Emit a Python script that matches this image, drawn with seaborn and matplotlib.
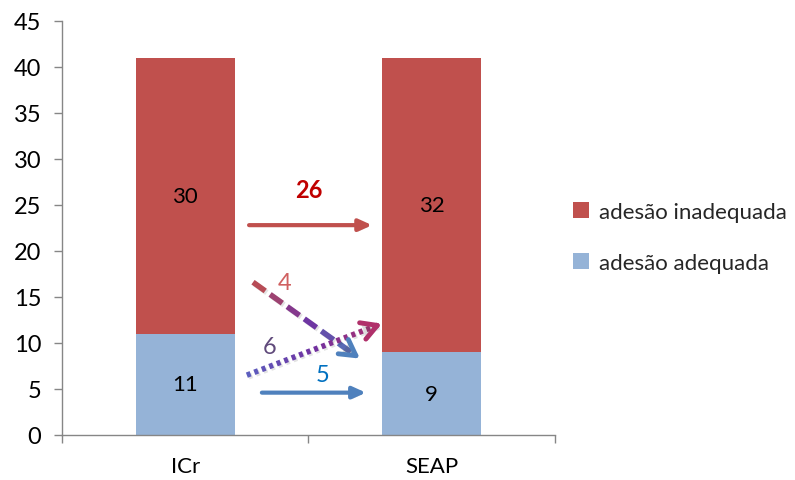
import numpy as np
import pandas as pd
import matplotlib
matplotlib.use("Agg")
import matplotlib.pyplot as plt
import matplotlib.patheffects as pe
from matplotlib.patches import Patch, FancyArrowPatch
from matplotlib.colors import to_rgb
import seaborn as sns

# ---- data ----
groups = ["ICr", "SEAP"]
adequada = [11, 9]
inadequada = [30, 32]
series_labels = ["adesão inadequada", "adesão adequada"]
flow_values = [26, 4, 6, 5]  # inadequada->inadequada, inadequada->adequada, adequada->inadequada, adequada->adequada

RED = "#C0504D"
BLUE = "#95B3D7"

sns.set_theme(style="white")
plt.rcParams["font.family"] = ["Lato", "DejaVu Sans"]

df = pd.DataFrame({"grupo": groups, "adequada": adequada, "inadequada": inadequada})
df["total"] = df["adequada"] + df["inadequada"]

fig = plt.figure(figsize=(7.95, 4.81), dpi=100)
ax = fig.add_axes([0.078, 0.0936, 0.620, 0.861])

sns.barplot(data=df, x="grupo", y="total", color=RED, width=0.4, saturation=1, ax=ax, linewidth=0)
sns.barplot(data=df, x="grupo", y="adequada", color=BLUE, width=0.4, saturation=1, ax=ax, linewidth=0)

# segment labels
for i, (a, b) in enumerate(zip(adequada, inadequada)):
    ax.text(i, a / 2, str(a), ha="center", va="center", fontsize=16, color="black")
    ax.text(i, a + b / 2, str(b), ha="center", va="center", fontsize=16, color="black")

shadow = [pe.SimplePatchShadow(offset=(1.2, -1.2), alpha=0.2), pe.Normal()]
line_shadow = [pe.SimpleLineShadow(offset=(1.2, -1.2), alpha=0.12), pe.Normal()]

def solid_arrow(x0, y0, x1, y1, color):
    arr = FancyArrowPatch((x0, y0), (x1, y1), arrowstyle="-|>,head_length=0.55,head_width=0.25",
                          mutation_scale=14, color=color, lw=3, shrinkA=0, shrinkB=0,
                          path_effects=shadow, zorder=5)
    ax.add_patch(arr)

def gradient_arrow(x0, y0, x1, y1, colors, on, off, lw, capstyle):
    # broken line drawn piece by piece so every dash takes its own colour
    p0 = np.array(ax.transData.transform((x0, y0)))
    p1 = np.array(ax.transData.transform((x1, y1)))
    length = np.hypot(*(p1 - p0))
    stops = np.linspace(0, 1, len(colors))
    cols = np.array([to_rgb(c) for c in colors])
    def col_at(t):
        return [np.interp(t, stops, cols[:, k]) for k in range(3)]
    inv = ax.transData.inverted()
    s = 0.0
    while s < length - 6:
        e = min(s + on, length)
        a = inv.transform(p0 + (p1 - p0) * s / length)
        b = inv.transform(p0 + (p1 - p0) * e / length)
        ax.plot([a[0], b[0]], [a[1], b[1]], color=col_at((s + e) / 2 / length), lw=lw,
                solid_capstyle=capstyle, zorder=5, path_effects=line_shadow)
        s += on + off
    a = inv.transform(p0 + (p1 - p0) * (length - 8) / length)
    arr = FancyArrowPatch(tuple(a), (x1, y1), arrowstyle="->,head_length=0.8,head_width=0.45",
                          mutation_scale=14, color=col_at(1.0), lw=lw - 0.5, shrinkA=0, shrinkB=0,
                          zorder=6, path_effects=shadow)
    ax.add_patch(arr)

ax.set_xlim(-0.5, 1.5)
ax.set_ylim(0, 45)
fig.canvas.draw()

solid_arrow(0.259, 22.8, 0.758, 22.8, RED)
solid_arrow(0.311, 4.6, 0.733, 4.6, "#4F81BD")
gradient_arrow(0.275, 16.6, 0.709, 8.3, ["#C0504D", "#7030A0", "#4F81BD"], 15, 6, 4, "butt")
gradient_arrow(0.250, 6.5, 0.798, 12.1, ["#5B5FBF", "#7030A0", "#B0306A"], 4, 4, 4, "butt")

ax.text(0.502, 26.7, str(flow_values[0]), ha="center", va="center", fontsize=17,
        fontweight="bold", color="#C00000")
ax.text(0.405, 16.6, str(flow_values[1]), ha="center", va="center", fontsize=17, color="#D06060")
ax.text(0.344, 9.6, str(flow_values[2]), ha="center", va="center", fontsize=17, color="#604A7B")
ax.text(0.559, 6.6, str(flow_values[3]), ha="center", va="center", fontsize=17, color="#0070C0")

# axes styling
ax.set_xlabel("")
ax.set_ylabel("")
ax.set_yticks(np.arange(0, 46, 5))
ax.set_xticks([0, 1])
ax.set_xticklabels(groups)
ax.set_xticks([-0.5, 0.5, 1.5], minor=True)
ax.tick_params(axis="x", which="major", length=0, labelsize=16, pad=15, colors="black")
ax.tick_params(axis="x", which="minor", length=6, width=1, color="#868686", direction="out", bottom=True)
ax.tick_params(axis="y", length=6, width=1, color="#868686", direction="out", left=True,
               labelsize=17, pad=9, labelcolor="black")
for side in ["top", "right"]:
    ax.spines[side].set_visible(False)
for side in ["left", "bottom"]:
    ax.spines[side].set_color("#868686")
    ax.spines[side].set_linewidth(1)

handles = [Patch(facecolor=RED, edgecolor="none"), Patch(facecolor=BLUE, edgecolor="none")]
fig.legend(handles, series_labels, loc="center left", bbox_to_anchor=(0.695, 0.505),
           frameon=False, fontsize=16, handlelength=0.75, handleheight=0.75,
           handletextpad=0.45, labelspacing=1.4)

fig.savefig("out.png", dpi=100)
